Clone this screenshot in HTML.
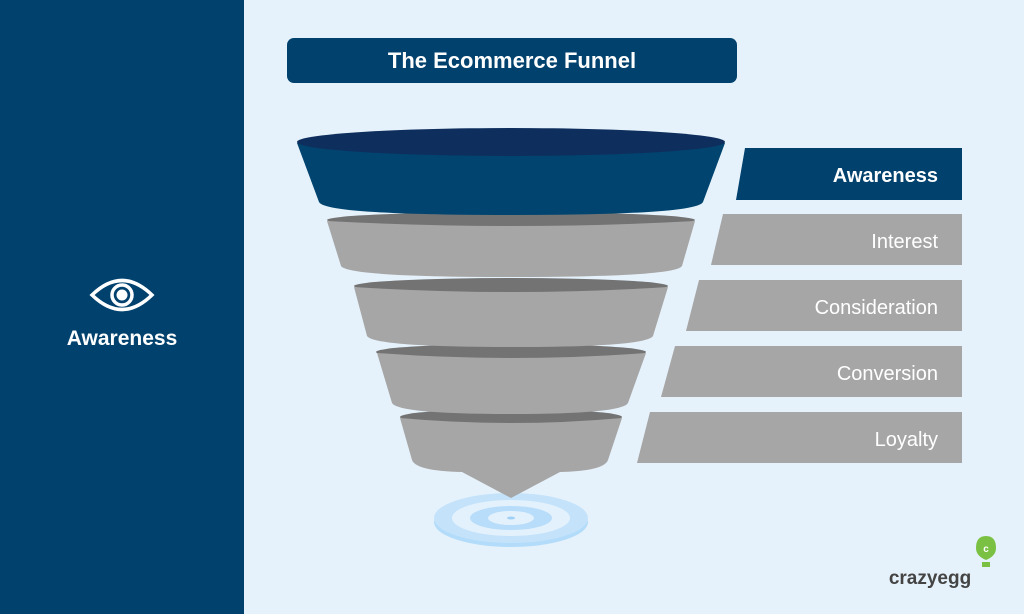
<!DOCTYPE html>
<html><head><style>
body{margin:0;width:1024px;height:614px;overflow:hidden;background:#e6f2fb;font-family:"Liberation Sans",sans-serif;}
</style></head><body>
<svg width="1024" height="614" viewBox="0 0 1024 614" style="position:absolute;left:0;top:0">
<rect x="0" y="0" width="1024" height="614" fill="#e6f2fb"/>
<rect x="0" y="0" width="244" height="614" fill="#00416d"/>
<!-- eye -->
<g fill="none" stroke="#fff" stroke-width="3.5">
<path d="M92,295 Q122,266 152,295 Q122,324 92,295 Z"/>
<circle cx="122" cy="295" r="10"/>
</g>
<circle cx="122" cy="295" r="5.5" fill="#fff"/>
<text x="122" y="345" text-anchor="middle" font-size="21" font-weight="bold" fill="#fff">Awareness</text>
<!-- title -->
<rect x="287" y="38" width="450" height="45" rx="7" fill="#00416d"/>
<text x="512" y="68" text-anchor="middle" font-size="22" font-weight="bold" fill="#fff">The Ecommerce Funnel</text>
<!-- labels -->
<polygon points="745,148 962,148 962,200 736,200" fill="#00416d"/>
<text x="938" y="182" text-anchor="end" font-size="20" font-weight="bold" fill="#fff">Awareness</text>
<polygon points="723,214 962,214 962,265 711,265" fill="#a6a6a6"/>
<text x="938" y="248" text-anchor="end" font-size="20" fill="#fff">Interest</text>
<polygon points="699,280 962,280 962,331 686,331" fill="#a6a6a6"/>
<text x="938" y="314" text-anchor="end" font-size="20" fill="#fff">Consideration</text>
<polygon points="675,346 962,346 962,397 661,397" fill="#a6a6a6"/>
<text x="938" y="380" text-anchor="end" font-size="20" fill="#fff">Conversion</text>
<polygon points="650,412 962,412 962,463 637,463" fill="#a6a6a6"/>
<text x="938" y="446" text-anchor="end" font-size="20" fill="#fff">Loyalty</text>
<!-- target -->
<ellipse cx="511" cy="522" rx="77" ry="25" fill="#b3dcfa"/>
<ellipse cx="511" cy="518" rx="77" ry="25" fill="#c4e3fb"/>
<ellipse cx="511" cy="518" rx="59" ry="18" fill="#e3f1fc"/>
<ellipse cx="511" cy="518" rx="41" ry="12" fill="#b8ddfa"/>
<ellipse cx="511" cy="518" rx="23" ry="7" fill="#e3f1fc"/>
<ellipse cx="511" cy="518" rx="4" ry="1.5" fill="#9fd0f5"/>
<!-- band 5 -->
<ellipse cx="511" cy="417" rx="111" ry="8" fill="#737373"/>
<path d="M400,418 Q511,428 622,418 L608,460 Q604,471 560,472 L511,498 L462,472 Q416,471 412,460 Z" fill="#a6a6a6"/>
<!-- band 4 -->
<ellipse cx="511" cy="352" rx="135" ry="8" fill="#737373"/>
<path d="M377,353 Q511,363 646,353 L628,403 Q622,414 511,414 Q398,414 392,403 Z" fill="#a6a6a6"/>
<!-- band 3 -->
<ellipse cx="511" cy="286" rx="157" ry="8" fill="#737373"/>
<path d="M354,287 Q511,297 668,287 L653,336 Q646,347 511,347 Q374,347 367,336 Z" fill="#a6a6a6"/>
<!-- band 2 -->
<ellipse cx="511" cy="220" rx="184" ry="8" fill="#737373"/>
<path d="M327,221 Q511,231 695,221 L682,266 Q675,277 511,277 Q348,277 341,266 Z" fill="#a6a6a6"/>
<!-- band 1 -->
<path d="M297,143 L319,202 Q325,215 511,215 Q697,215 703,202 L725,143 Z" fill="#00446f"/>
<ellipse cx="511" cy="142" rx="214" ry="14" fill="#0e2f5d"/>
<!-- logo -->
<g>
<path d="M986,560 Q976,556 976,548 Q976,536 986,536 Q996,536 996,548 Q996,556 986,560 Z" fill="#7ac143"/>
<rect x="982" y="562" width="8" height="5" fill="#7ac143"/>
<text x="986" y="552" text-anchor="middle" font-size="10" font-weight="bold" fill="#fff">c</text>
<text x="930" y="584" text-anchor="middle" font-size="19" font-weight="bold" fill="#444">crazyegg</text>
</g>
</svg>
</body></html>
